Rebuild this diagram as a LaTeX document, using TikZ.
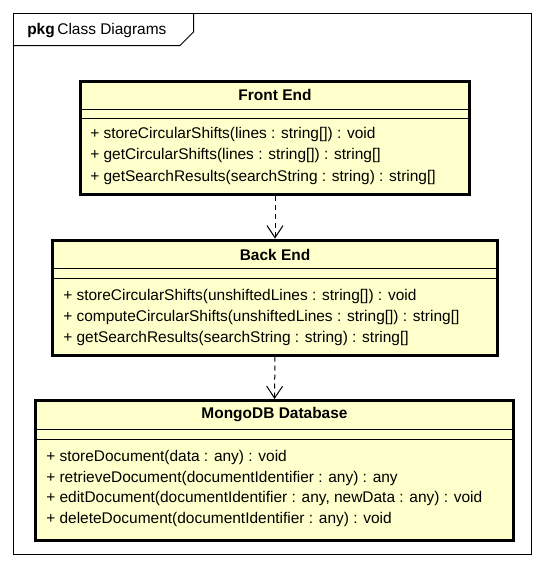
\documentclass[tikz,border=0pt]{standalone}
\usepackage{fontspec}
\setmainfont{Liberation Sans}
\usetikzlibrary{arrows.meta}
\definecolor{classfill}{RGB}{255,255,204}
\begin{document}
\begin{tikzpicture}[x=0.75pt,y=-0.75pt,
  font=\fontsize{11.6}{14}\selectfont,
  classbox/.style={draw, fill=classfill, line width=2.25pt, anchor=north west, inner sep=0pt},
  sepline/.style={line width=0.75pt},
  member/.style={anchor=west, inner sep=0pt},
  ctitle/.style={inner sep=0pt, font=\fontsize{11.6}{14}\selectfont\bfseries},
  dep/.style={line width=0.75pt, dash pattern=on 3.75pt off 3pt, -{Straight Barb[length=9pt,width=12pt,line width=0.75pt]}}]
\useasboundingbox (0,0) rectangle (545,568);
% package frame
\draw[line width=0.75pt] (13.5,13.5) rectangle (531.5,554.5);
\draw[line width=0.75pt] (13.5,45.5) -- (180,45.5) -- (193.5,32) -- (193.5,13.5);
\node[member] (pkg) at (27,31) {\textbf{pkg}\,Class Diagrams};
% Front End
\node[classbox, minimum width=389*0.75pt, minimum height=113*0.75pt] (fe) at (79,79.5) {};
\draw[sepline] (fe.west |- 0,109.5) -- (fe.east |- 0,109.5);
\draw[sepline] (fe.west |- 0,118.5) -- (fe.east |- 0,118.5);
\node[ctitle] (fet) at (fe.center |- 0,95) {Front End};
\node[member] (fe1) at (90,134) {+ storeCircularShifts(lines : string[]) : void};
\node[member] (fe2) at (90,155.5) {+ getCircularShifts(lines : string[]) : string[]};
\node[member] (fe3) at (90,177) {+ getSearchResults(searchString : string) : string[]};
% Back End
\node[classbox, minimum width=445*0.75pt, minimum height=115*0.75pt] (be) at (51,238.5) {};
\draw[sepline] (be.west |- 0,268.5) -- (be.east |- 0,268.5);
\draw[sepline] (be.west |- 0,278.5) -- (be.east |- 0,278.5);
\node[ctitle] (bet) at (be.center |- 0,254.5) {Back End};
\node[member] (be1) at (63,296) {+ storeCircularShifts(unshiftedLines : string[]) : void};
\node[member] (be2) at (63,317) {+ computeCircularShifts(unshiftedLines : string[]) : string[]};
\node[member] (be3) at (63,338) {+ getSearchResults(searchString : string) : string[]};
% MongoDB
\node[classbox, minimum width=478*0.75pt, minimum height=140*0.75pt] (db) at (34,399) {};
\draw[sepline] (db.west |- 0,429.5) -- (db.east |- 0,429.5);
\draw[sepline] (db.west |- 0,439.5) -- (db.east |- 0,439.5);
\node[ctitle] (dbt) at (db.center |- 0,415) {MongoDB Database};
\node[member] (db1) at (46,457) {+ storeDocument(data : any) : void};
\node[member] (db2) at (46,478) {+ retrieveDocument(documentIdentifier : any) : any};
\node[member] (db3) at (46,498.5) {+ editDocument(documentIdentifier : any, newData : any) : void};
\node[member] (db4) at (46,519) {+ deleteDocument(documentIdentifier : any) : void};
% dependencies
\draw[dep] (fe.south) -- (be.north);
\draw[dep] (be.south) -- (db.north);
\end{tikzpicture}
\end{document}
